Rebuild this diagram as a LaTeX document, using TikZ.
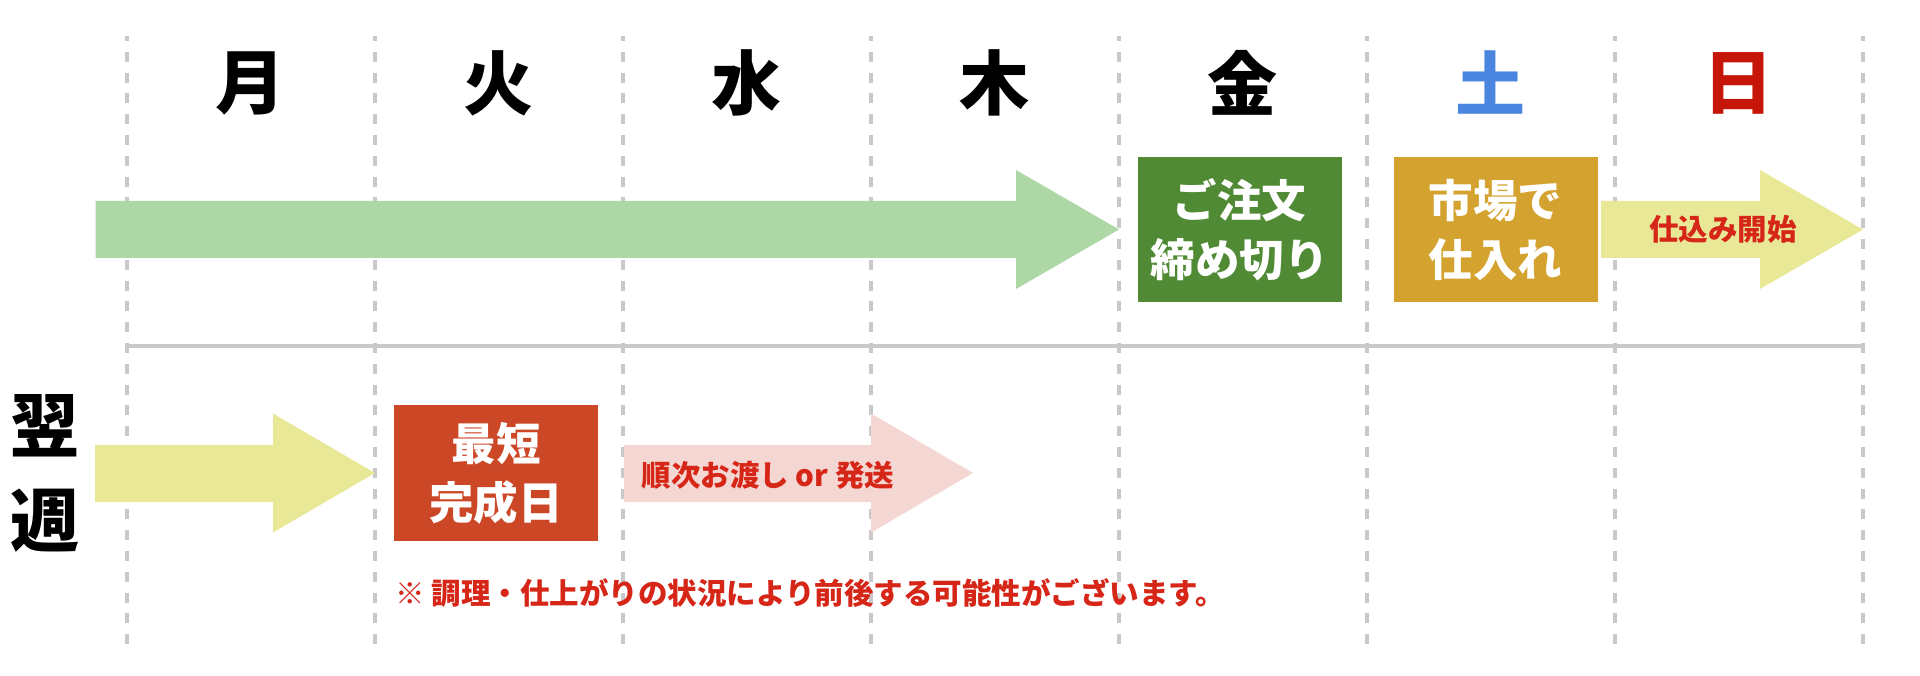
\documentclass[tikz,border=0pt]{standalone}
\usepackage{fontspec}
\setmainfont{Noto Sans CJK JP}
\usepackage{xcolor}
\usetikzlibrary{positioning}

\definecolor{gridgray}{RGB}{201,201,201}
\definecolor{arrowgreen}{RGB}{173,216,165}
\definecolor{boxgreen}{RGB}{80,138,52}
\definecolor{boxgold}{RGB}{212,162,46}
\definecolor{arrowyellow}{RGB}{233,232,151}
\definecolor{boxred}{RGB}{204,71,38}
\definecolor{arrowpink}{RGB}{244,214,210}
\definecolor{notered}{RGB}{214,38,24}
\definecolor{satblue}{RGB}{74,134,224}
\definecolor{sunred}{RGB}{198,22,10}

\begin{document}
\begin{tikzpicture}[x=1pt, y=-1pt, node distance=248pt, thick]
      \tikzstyle{day} = [font=\fontsize{70}{70}\selectfont\bfseries, inner sep=0pt]
      \tikzstyle{grid line} = [draw=gridgray, line width=3.5pt, dash pattern=on 10pt off 10.8pt, dash phase=5pt]
      \tikzstyle{step box} = [rectangle, minimum width=204pt, minimum height=145pt, text=white, align=center,
         inner sep=0pt, font=\fontsize{44.5}{59}\selectfont\bfseries]
      \tikzstyle{small label} = [text=notered, inner sep=0pt, font=\fontsize{29.5}{30}\selectfont\bfseries]

      \useasboundingbox (0,0) rectangle (1920,676);

      %grid
      \foreach \i in {0,...,7}
         \draw[grid line] (126.8+248*\i,36) -- (126.8+248*\i,645);
      \draw[draw=gridgray, line width=4pt] (126.8,346.5) -- (1862.8,346.5);

      %days
      \node[day]                	(mon) 	at (250.8,83) 	{月};
      \node[day] 	(tue) 	[right of=mon] 	{火};
      \node[day] 	(wed) 	[right of=tue] 	{水};
      \node[day] 	(thu) 	[right of=wed] 	{木};
      \node[day] 	(fri) 	[right of=thu] 	{金};
      \node[day, text=satblue] 	(sat) 	[right of=fri] 	{土};
      \node[day, text=sunred] 	(sun) 	[right of=sat] 	{日};

      %this week
      \fill[arrowgreen] (95.5,201) -- (1016,201) -- (1016,170) -- (1119,229.5) -- (1016,289) -- (1016,258) -- (95.5,258) -- cycle;
      \node[step box, fill=boxgreen] 	(order) 	at (1239.5,229.5) 	{ご注文\\締め切り};
      \node[step box, fill=boxgold] 	(market) 	[right of=order, node distance=256pt] 	{市場で\\仕入れ};
      \fill[arrowyellow] (1601,201) -- (1760,201) -- (1760,170) -- (1863,229.5) -- (1760,289) -- (1760,258) -- (1601,258) -- cycle;
      \node[small label] 	(prep) 	at (1723,229.5) 	{仕込み開始};

      %next week
      \node[day, align=center, font=\fontsize{69}{95}\selectfont\bfseries] 	(nextweek) 	at (44.5,473) 	{翌\\週};
      \fill[arrowyellow] (95,445) -- (273,445) -- (273,413.5) -- (375,473) -- (273,532.5) -- (273,502) -- (95,502) -- cycle;
      \node[step box, fill=boxred, minimum height=136pt] 	(finish) 	at (496,473) 	{最短\\完成日};
      \fill[arrowpink] (624,445) -- (871,445) -- (871,413.5) -- (973,473) -- (871,532.5) -- (871,502) -- (624,502) -- cycle;
      \node[small label] 	(deliver) 	at (768,475) 	{順次お渡し or 発送};
      \node[small label, anchor=west] 	(note) 	at (395,593) 	{※ 調理・仕上がりの状況により前後する可能性がございます。};
\end{tikzpicture}
\end{document}
